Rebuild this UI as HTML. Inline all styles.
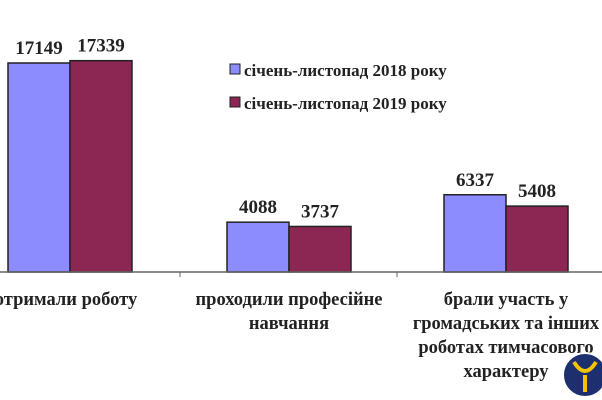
<!DOCTYPE html>
<html><head><meta charset="utf-8"><style>
html,body{margin:0;padding:0;background:#fff;width:602px;height:400px;overflow:hidden}
text{font-family:"Liberation Serif",serif;font-weight:bold;fill:#222}
</style></head><body>
<svg width="602" height="400">
<g id="plot"></g>
<g>
 <rect x="230" y="64" width="10" height="10" fill="#8c8cff" stroke="#222"/>
 <text x="244" y="76" font-size="17">січень-листопад 2018 року</text>
 <rect x="230" y="97" width="10" height="10" fill="#8b2752" stroke="#222"/>
 <text x="244" y="109" font-size="17">січень-листопад 2019 року</text>
</g>
<g>
 <circle cx="585" cy="375" r="22" fill="#1d2f6e" stroke="#fff" stroke-width="2"/>
 <path d="M574 362 Q585 380 596 362 M585 375 L585 392" stroke="#f5c400" stroke-width="4" fill="none"/>
</g>
</svg>
<script>
const categories=[["отримали роботу"],["проходили професійне","навчання"],["брали участь у","громадських та інших","роботах тимчасового","характеру"]];
const s2018=[17149,4088,6337];
const s2019=[17339,3737,5408];
const colors=["#8c8cff","#8b2752"];
const base=272, scale=209/17149;
const centers=[70,289,506], bw=62;
const y=v=>base-v*scale;
const g=document.getElementById('plot');
const NS="http://www.w3.org/2000/svg";
function mk(t,a){const e=document.createElementNS(NS,t);for(const k in a)e.setAttribute(k,a[k]);g.appendChild(e);return e;}
[s2018,s2019].forEach((s,si)=>{s.forEach((v,i)=>{
 const x=centers[i]-bw+si*bw;
 const r=mk('rect',{x:x,y:y(v),width:bw,height:v*scale,fill:colors[si],stroke:'#222','stroke-width':1.5});
 
 
 const t=mk('text',{x:x+bw/2,y:y(v)-9,'text-anchor':'middle','font-size':19});
 t.textContent=v;
 
 
});});
const ax=mk('line',{x1:0,x2:602,y1:base,y2:base,stroke:'#666','stroke-width':1.5});


[180,397].forEach(x=>{const l=mk('line',{x1:x,x2:x,y1:base,y2:base+5,stroke:'#666'});
 
 });
categories.forEach((lines,i)=>{lines.forEach((s,j)=>{
 const t=mk('text',{x:centers[i]+(i==0?-4:0),y:305+j*24,'text-anchor':'middle','font-size':18.5});
 t.textContent=s;
 
 
});});
</script>
</body></html>
